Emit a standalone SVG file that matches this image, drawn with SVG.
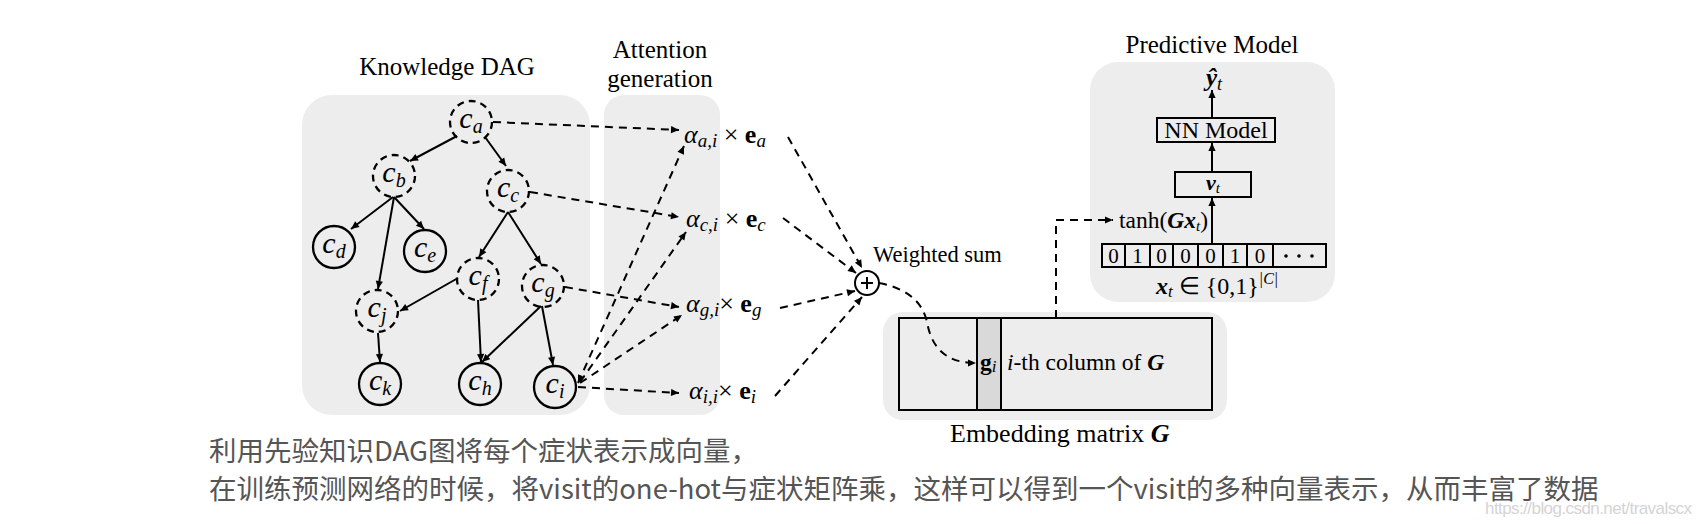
<svg xmlns="http://www.w3.org/2000/svg" width="1702" height="524" viewBox="0 0 1702 524">
<defs>
<style>
.panel{fill:#ededed}
.t{font-family:"Liberation Serif",serif;fill:#000}
.title{font-size:25px}
.node{fill:none;stroke:#000;stroke-width:2.3}
.dn{stroke-dasharray:7 5}
.lbl{font-family:"Liberation Serif",serif;font-style:italic;font-size:30px;text-anchor:middle}
.sub{font-size:20px}
.edge{fill:none;stroke:#000;stroke-width:2}
.dash{stroke-dasharray:8 6}
.box{stroke:#000;stroke-width:2}
.m{font-family:"Liberation Serif",serif;font-size:26px}
.ms{font-size:19px;font-style:italic}
.cn{font-family:"Noto Sans CJK SC",sans-serif;font-size:27.5px;fill:#555}
</style>
<marker id="ah" viewBox="0 0 10 10" refX="10" refY="5" markerWidth="9" markerHeight="8" markerUnits="userSpaceOnUse" orient="auto-start-reverse"><path d="M0,0.5 L10,5 L0,9.5 z" fill="#000"/></marker>
</defs>
<rect width="1702" height="524" fill="#fff"/>

<g id="panels">
<rect class="panel" x="302" y="95" width="288" height="320" rx="30"/>
<rect class="panel" x="604" y="95" width="116" height="320" rx="20"/>
<rect class="panel" x="883" y="312" width="344" height="108" rx="20"/>
<rect class="panel" x="1090" y="62" width="245" height="240" rx="28"/>
</g>

<g id="titles" class="t title">
<text x="447" y="75" text-anchor="middle">Knowledge DAG</text>
<text x="660" y="58" text-anchor="middle">Attention</text>
<text x="660" y="87" text-anchor="middle">generation</text>
<text x="1212" y="53" text-anchor="middle">Predictive Model</text>
<text x="950" y="442" font-size="26">Embedding matrix <tspan font-weight="bold" font-style="italic">G</tspan></text>
</g>

<g id="node-ca"><circle class="node dn" cx="471" cy="122" r="21"/><text class="lbl" x="471" y="128">c<tspan class="sub" dy="5">a</tspan></text></g>
<g id="node-cb"><circle class="node dn" cx="394" cy="176" r="21"/><text class="lbl" x="394" y="182">c<tspan class="sub" dy="5">b</tspan></text></g>
<g id="node-cc"><circle class="node dn" cx="508" cy="191" r="21"/><text class="lbl" x="508" y="197">c<tspan class="sub" dy="5">c</tspan></text></g>
<g id="node-cd"><circle class="node" cx="334" cy="247" r="21"/><text class="lbl" x="334" y="253">c<tspan class="sub" dy="5">d</tspan></text></g>
<g id="node-ce"><circle class="node" cx="425" cy="251" r="21"/><text class="lbl" x="425" y="257">c<tspan class="sub" dy="5">e</tspan></text></g>
<g id="node-cf"><circle class="node dn" cx="478" cy="279" r="21"/><text class="lbl" x="478" y="285">c<tspan class="sub" dy="5">f</tspan></text></g>
<g id="node-cg"><circle class="node dn" cx="543" cy="286" r="21"/><text class="lbl" x="543" y="292">c<tspan class="sub" dy="5">g</tspan></text></g>
<g id="node-cj"><circle class="node dn" cx="377" cy="311" r="21"/><text class="lbl" x="377" y="317">c<tspan class="sub" dy="5">j</tspan></text></g>
<g id="node-ck"><circle class="node" cx="380" cy="384" r="21"/><text class="lbl" x="380" y="390">c<tspan class="sub" dy="5">k</tspan></text></g>
<g id="node-ch"><circle class="node" cx="480" cy="384" r="21"/><text class="lbl" x="480" y="390">c<tspan class="sub" dy="5">h</tspan></text></g>
<g id="node-ci"><circle class="node" cx="555" cy="387" r="21"/><text class="lbl" x="555" y="393">c<tspan class="sub" dy="5">i</tspan></text></g>

<g id="alpha-a"><text class="m" x="684" y="143"><tspan font-style="italic">α</tspan><tspan class="ms" dy="4">a,i</tspan><tspan dy="-4"> × </tspan><tspan font-weight="bold">e</tspan><tspan class="ms" dy="4">a</tspan></text></g>
<g id="alpha-c"><text class="m" x="686" y="227"><tspan font-style="italic">α</tspan><tspan class="ms" dy="4">c,i</tspan><tspan dy="-4"> × </tspan><tspan font-weight="bold">e</tspan><tspan class="ms" dy="4">c</tspan></text></g>
<g id="alpha-g"><text class="m" x="686" y="312"><tspan font-style="italic">α</tspan><tspan class="ms" dy="4">g,i</tspan><tspan dy="-4">× </tspan><tspan font-weight="bold">e</tspan><tspan class="ms" dy="4">g</tspan></text></g>
<g id="alpha-i"><text class="m" x="689" y="399"><tspan font-style="italic">α</tspan><tspan class="ms" dy="4">i,i</tspan><tspan dy="-4">× </tspan><tspan font-weight="bold">e</tspan><tspan class="ms" dy="4">i</tspan></text></g>

<g id="sum">
<circle cx="867" cy="283" r="12" fill="#fff" stroke="#000" stroke-width="2"/>
<path d="M861,283 H873 M867,277 V289" stroke="#000" stroke-width="2"/>
<text class="t" x="873" y="262" font-size="22.5">Weighted sum</text>
</g>

<g id="embedding">
<rect class="box" x="899" y="318" width="313" height="92" fill="#ededed"/>
<rect class="box" x="977" y="318" width="24" height="92" fill="#d9d9d9"/>
<text class="t" x="980" y="370" font-size="23.5"><tspan font-weight="bold">g</tspan><tspan font-style="italic" font-size="17" dy="2">i</tspan></text>
<text class="t" x="1007" y="370" font-size="23.5"><tspan font-style="italic">i</tspan>-th column of <tspan font-weight="bold" font-style="italic">G</tspan></text>
</g>

<g id="predictive">
<text class="t" x="1206" y="86" font-size="25" font-weight="bold" font-style="italic">ŷ<tspan font-weight="normal" font-size="18" dy="4">t</tspan></text>
<g id="nn-model"><rect class="box" x="1157" y="118" width="118" height="24" fill="none"/><text class="t" x="1216" y="138" font-size="24" text-anchor="middle">NN Model</text></g>
<g id="vt"><rect class="box" x="1175" y="172" width="76" height="25" fill="none"/><text class="t" x="1213" y="190" font-size="22" text-anchor="middle"><tspan font-weight="bold" font-style="italic">v</tspan><tspan font-style="italic" font-size="15" dy="3">t</tspan></text></g>
<text class="t" x="1119" y="228" font-size="23.5">tanh(<tspan font-weight="bold" font-style="italic">Gx</tspan><tspan font-style="italic" font-size="15" dy="3">t</tspan><tspan dy="-3">)</tspan></text>
<g id="xt-array">
<rect class="box" x="1102" y="244" width="224" height="23" fill="none"/>
<path d="M1125,244 V267 M1150,244 V267 M1173,244 V267 M1198,244 V267 M1223,244 V267 M1247,244 V267 M1273,244 V267" stroke="#000" stroke-width="2"/>
<g class="t" font-size="21" text-anchor="middle">
<text x="1113.5" y="263">0</text><text x="1137.5" y="263">1</text><text x="1161.5" y="263">0</text><text x="1185.5" y="263">0</text><text x="1210.5" y="263">0</text><text x="1235" y="263">1</text><text x="1260" y="263">0</text>
</g>
<circle cx="1286" cy="256" r="1.8"/><circle cx="1299" cy="256" r="1.8"/><circle cx="1312" cy="256" r="1.8"/>
</g>
<text class="t" x="1156" y="294" font-size="24"><tspan font-weight="bold" font-style="italic">x</tspan><tspan font-style="italic" font-size="17" dy="3">t</tspan><tspan dy="-3"> ∈ {0,1}</tspan><tspan font-style="italic" font-size="16" dy="-10">|C|</tspan></text>
</g>

<g id="connectors">
<g class="edge" marker-end="url(#ah)">
<path d="M457,136 L410,161"/>
<path d="M485,137 L506,166"/>
<path d="M393,197 L351,229"/>
<path d="M394,197 L424,229"/>
<path d="M394,197 L378,289"/>
<path d="M508,212 L479,257"/>
<path d="M508,212 L541,264"/>
<path d="M458,278 L400,311"/>
<path d="M478,300 L481,362"/>
<path d="M541,306 L482,362"/>
<path d="M542,306 L553,365"/>
<path d="M378,333 L380,362"/>
<path d="M1212,118 L1212,90"/>
<path d="M1212,172 L1212,143"/>
<path d="M1212,244 L1212,198"/>
</g>
<g class="edge dash" marker-end="url(#ah)">
<path d="M493,122 L679,130"/>
<path d="M530,192 L679,217"/>
<path d="M565,287 L679,307"/>
<path d="M578,387 L679,393"/>
<path d="M580,382 L686,232"/>
<path d="M580,383 L682,315"/>
<path d="M788,137 L862,268"/>
<path d="M783,218 L856,273"/>
<path d="M780,308 L855,291"/>
<path d="M775,396 L862,297"/>
<path d="M879,283 C905,288 922,300 927,322 C932,350 948,363 976,363"/>
<path d="M1056,318 V220 H1113"/>
</g>
<path class="edge dash" d="M578,383 L684,146" marker-start="url(#ah)" marker-end="url(#ah)"/>
</g>

<g id="caption">
<text class="cn" x="209" y="461">利用先验知识DAG图将每个症状表示成向量，</text>
<text class="cn" x="209" y="499">在训练预测网络的时候，将visit的one-hot与症状矩阵乘，这样可以得到一个visit的多种向量表示，从而丰富了数据</text>
<text x="1485" y="514" font-family="Liberation Sans, sans-serif" font-size="17" fill="#d4d4d4" textLength="207">https://blog.csdn.net/travalscx</text>
</g>
</svg>
